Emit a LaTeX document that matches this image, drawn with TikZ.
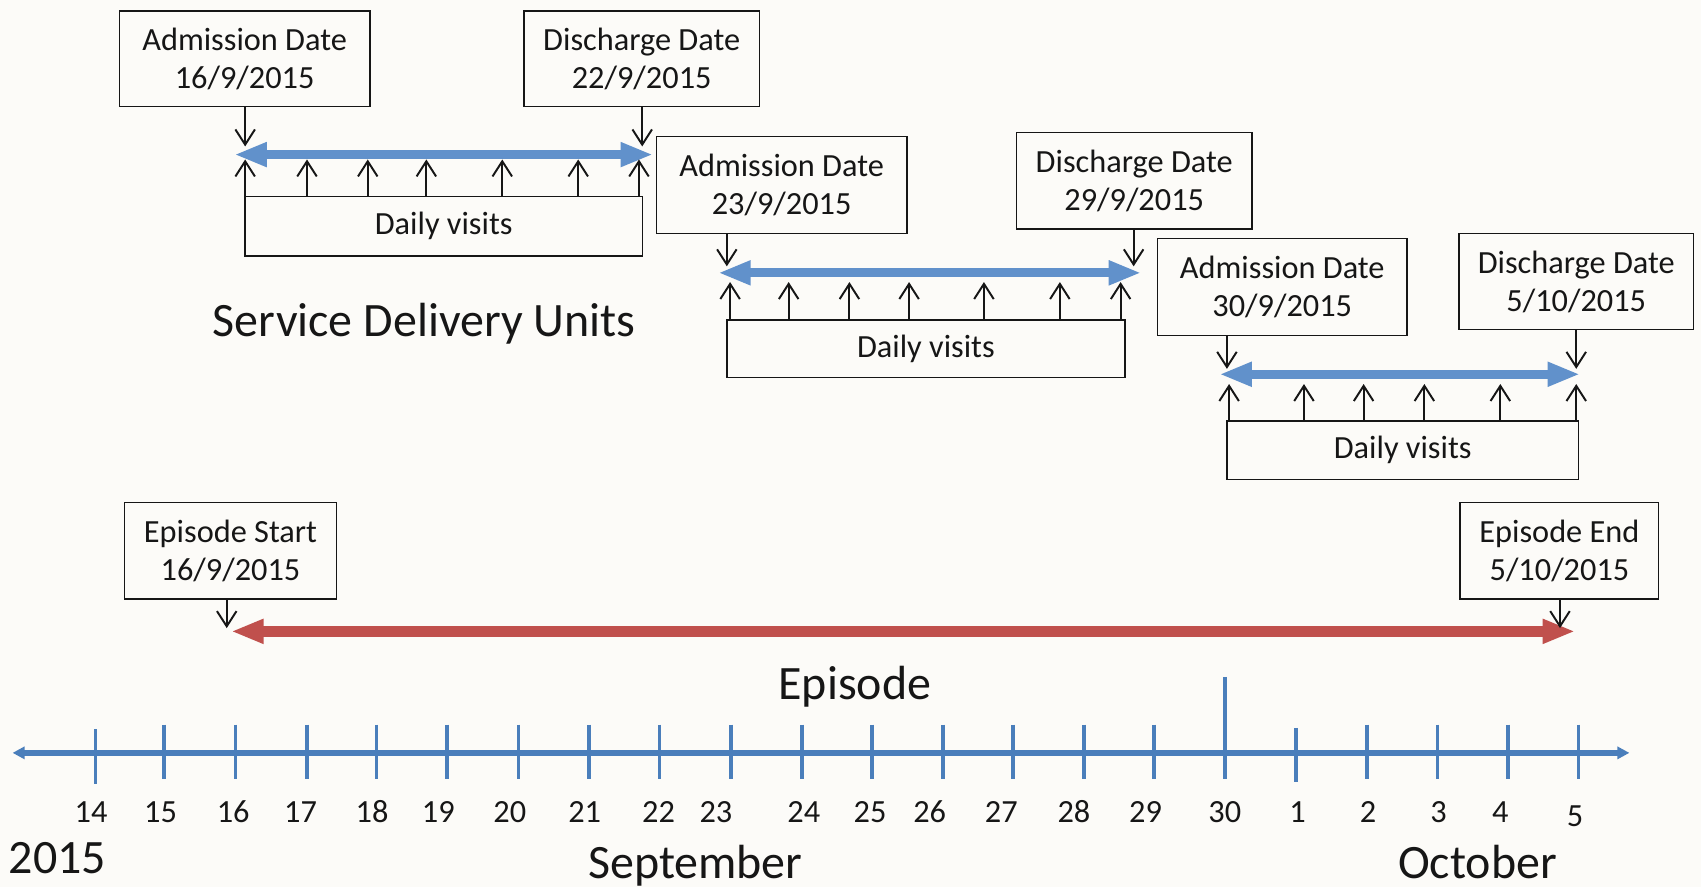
\documentclass[tikz,border=0pt]{standalone}
\usepackage{fontspec}
\setmainfont{Carlito}
\usetikzlibrary{arrows.meta}
\definecolor{bg}{RGB}{252,251,248}
\definecolor{ink}{RGB}{22,22,22}
\definecolor{sdublue}{RGB}{97,145,203}
\definecolor{axisblue}{RGB}{74,126,187}
\definecolor{epired}{RGB}{192,80,77}
\newcommand\sdfbox{\fontsize{29.8}{35}\selectfont}
\newcommand\sdftitle{\fontsize{44.2}{50}\selectfont}
\begin{document}
\begin{tikzpicture}[x=1pt,y=-1pt,
  box/.style={draw=ink,line width=1.3pt,inner sep=0pt,align=center,font=\sdfbox,text=ink},
  num/.style={font=\sdfbox,text=ink,anchor=base,inner sep=0pt},
  big/.style={font=\sdftitle,text=ink,anchor=base,inner sep=0pt},
  pointer/.style={draw=ink,line width=1.8pt,-{Straight Barb[length=14pt,width=18pt]}},
  sdu/.style={draw=sdublue,line width=8pt,{Triangle[length=30pt,width=21pt]}-{Triangle[length=30pt,width=21pt]}},
  epi/.style={draw=epired,line width=9.5pt,{Triangle[length=30pt,width=21pt]}-{Triangle[length=30pt,width=21pt]}},
  axis/.style={draw=axisblue,line width=5pt,{Triangle[length=11pt,width=11pt]}-{Triangle[length=11pt,width=11pt]}},
  tick/.style={draw=axisblue,line width=3.5pt}]
\fill[bg] (0,0) rectangle (1568,818);
\useasboundingbox (0,0) rectangle (1568,818);

% ---- service delivery unit 1 ----
\node[box,minimum width=231pt,minimum height=88pt] (a1) at (225.5,54) {Admission Date\\16/9/2015};
\node[box,minimum width=217pt,minimum height=88pt] (d1) at (591.5,54) {Discharge Date\\22/9/2015};
\node[box,minimum width=366pt,minimum height=55pt] (v1) at (409,208.5) {Daily visits};
\coordinate (s1l) at (216,142.5);
\coordinate (s1r) at (602,142.5);
\draw[sdu] (s1l) -- (s1r);
\coordinate (a1t) at (226,135);
\coordinate (d1t) at (592,135);
\draw[pointer] (a1t |- a1.south) -- (a1t);
\draw[pointer] (d1t |- d1.south) -- (d1t);
\foreach \x [count=\i] in {226,283,339,393,463,533,589}{
  \coordinate (u1-\i) at (\x,147);
  \draw[pointer] (u1-\i |- v1.north) -- (u1-\i);
}

% ---- service delivery unit 2 ----
\node[box,minimum width=231pt,minimum height=89pt] (a2) at (720.5,170.5) {Admission Date\\23/9/2015};
\node[box,minimum width=217pt,minimum height=89pt] (d2) at (1045.5,166.5) {Discharge Date\\29/9/2015};
\node[box,minimum width=367pt,minimum height=53pt] (v2) at (853.5,321.5) {Daily visits};
\coordinate (s2l) at (662,251.5);
\coordinate (s2r) at (1052,251.5);
\draw[sdu] (s2l) -- (s2r);
\coordinate (a2t) at (670,245.5);
\coordinate (d2t) at (1045,245.5);
\draw[pointer] (a2t |- a2.south) -- (a2t);
\draw[pointer] (d2t |- d2.south) -- (d2t);
\foreach \x [count=\i] in {673,727,783,838,907,977,1033}{
  \coordinate (u2-\i) at (\x,260);
  \draw[pointer] (u2-\i |- v2.north) -- (u2-\i);
}

% ---- service delivery unit 3 ----
\node[box,minimum width=230pt,minimum height=89pt] (a3) at (1182,264.5) {Admission Date\\30/9/2015};
\node[box,minimum width=216pt,minimum height=89pt] (d3) at (1453,259.5) {Discharge Date\\5/10/2015};
\node[box,minimum width=324pt,minimum height=54pt] (v3) at (1293,415) {Daily visits};
\coordinate (s3l) at (1124,345);
\coordinate (s3r) at (1456.5,345);
\draw[sdu] (s3l) -- (s3r);
\coordinate (a3t) at (1131,340);
\coordinate (d3t) at (1453,340);
\draw[pointer] (a3t |- a3.south) -- (a3t);
\draw[pointer] (d3t |- d3.south) -- (d3t);
\foreach \x [count=\i] in {1133,1202,1257,1313,1383,1453}{
  \coordinate (u3-\i) at (\x,354);
  \draw[pointer] (u3-\i |- v3.north) -- (u3-\i);
}

\node[big] (sdulabel) at (391,310.4) {Service Delivery Units};

% ---- episode ----
\node[box,minimum width=195pt,minimum height=89pt] (es) at (212.5,507.5) {Episode Start\\16/9/2015};
\node[box,minimum width=183pt,minimum height=89pt] (ee) at (1437.5,507.5) {Episode End\\5/10/2015};
\coordinate (epl) at (213,582);
\coordinate (epr) at (1452,582);
\draw[epi] (epl) -- (epr);
\coordinate (est) at (209,579);
\coordinate (eet) at (1438,579);
\draw[pointer] (est |- es.south) -- (est);
\draw[pointer] (eet |- ee.south) -- (eet);
\node[big] (epilabel) at (788,645) {Episode};

% ---- time axis ----
\coordinate (ax0) at (11.6,694);
\coordinate (ax1) at (1502,694);
\draw[axis] (ax0) -- (ax1);
\foreach \x in {151,217,283,347,412,478,543,608,674,739,804,869,934,999,1064,1260,1325,1390,1455}
  \draw[tick] (\x,668) -- (\x,718);
\draw[tick] (88,672) -- (88,723);
\draw[tick] (1129,624) -- (1129,718);
\draw[tick] (1195,671) -- (1195,721);

\foreach \x/\t in {84/14,148/15,215/16,277/17,343/18,404/19,470/20,539/21,607/22,660/23,741/24,802/25,857/26,923/27,990/28,1056/29,1129/30,1196/1,1261/2,1326/3,1383/4}
  \node[num] (n\t) at (\x,758.5) {\t};
\node[num] (n5) at (1452,761.5) {5};

\node[big] (yr) at (53,805) {2015};
\node[big] (sep) at (641,810) {September};
\node[big] (oct) at (1362,810) {October};
\end{tikzpicture}
\end{document}
